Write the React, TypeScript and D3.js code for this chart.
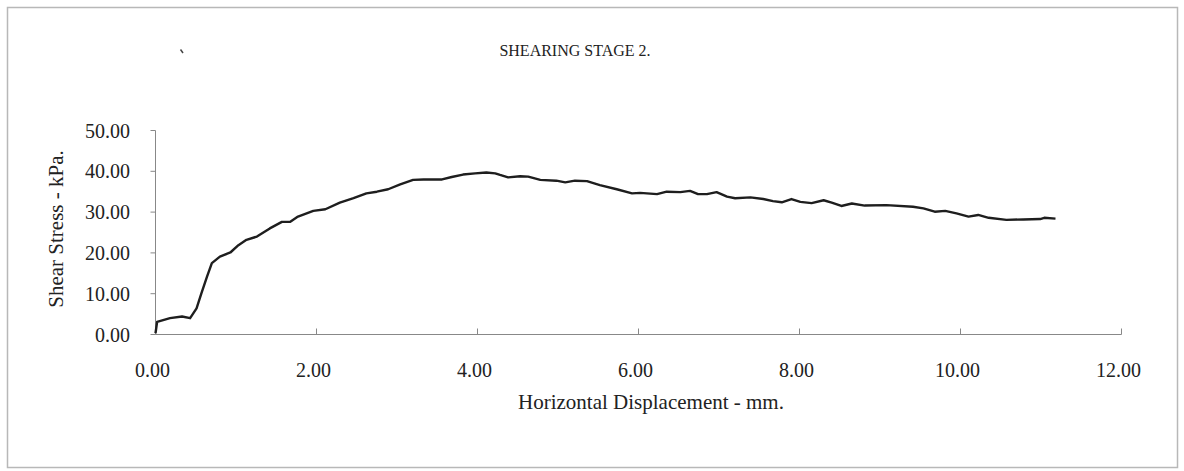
import React from "react";
import * as d3 from "d3";

const displacement = [
  0.0, 0.02, 0.18, 0.33, 0.43, 0.51, 0.57, 0.64, 0.7, 0.8, 0.93, 1.03, 1.13, 1.26, 1.42, 1.57, 1.67, 1.77,
  1.96, 2.11, 2.29, 2.46, 2.62, 2.75, 2.89, 3.04, 3.2, 3.33, 3.56, 3.68, 3.82, 3.97, 4.11, 4.22, 4.28,
  4.38, 4.53, 4.63, 4.78, 4.98, 5.09, 5.21, 5.36, 5.52, 5.73, 5.92, 6.02, 6.23, 6.35, 6.52, 6.64, 6.74,
  6.85, 6.97, 7.1, 7.2, 7.39, 7.55, 7.67, 7.78, 7.9, 8.01, 8.15, 8.3, 8.4, 8.52, 8.65, 8.81, 9.08, 9.41,
  9.54, 9.68, 9.81, 9.95, 10.1, 10.22, 10.35, 10.57, 10.78, 10.99, 11.04, 11.18,
];
const shearStress = [
  0.3, 3.1, 4.0, 4.4, 4.0, 6.4, 10.1, 14.2, 17.5, 19.1, 20.1, 21.9, 23.2, 24.0, 26.0, 27.6, 27.6, 28.9,
  30.3, 30.7, 32.3, 33.4, 34.6, 35.0, 35.6, 36.8, 37.9, 38.0, 38.0, 38.6, 39.2, 39.5, 39.7, 39.5, 39.1,
  38.5, 38.8, 38.7, 37.9, 37.7, 37.3, 37.7, 37.6, 36.6, 35.6, 34.6, 34.7, 34.4, 35.0, 34.9, 35.2, 34.4,
  34.4, 34.9, 33.8, 33.4, 33.6, 33.2, 32.7, 32.4, 33.2, 32.5, 32.2, 32.9, 32.3, 31.5, 32.1, 31.6, 31.7, 31.3,
  30.9, 30.1, 30.3, 29.7, 28.9, 29.3, 28.6, 28.1, 28.2, 28.3, 28.6, 28.4,
];
const xTicks = [0, 2, 4, 6, 8, 10, 12];
const yTicks = [0, 10, 20, 30, 40, 50];
const title = "SHEARING STAGE 2.";
const xTitle = "Horizontal Displacement - mm.";
const yTitle = "Shear Stress - kPa.";

const W = 1184;
const H = 471;
const FONT = "'Liberation Serif', 'Times New Roman', serif";

export default function App() {
  const x = d3.scaleLinear().domain([0, 12]).range([155.5, 1121.5]);
  const y = d3.scaleLinear().domain([0, 50]).range([334.5, 130.5]);
  const pts: [number, number][] = displacement.map((d, i) => [d, shearStress[i]]);
  const line = d3
    .line<[number, number]>()
    .x((d) => x(d[0]))
    .y((d) => y(d[1]))
    .curve(d3.curveLinear);

  return (
    <svg
      width={W}
      height={H}
      style={{ position: "absolute", left: 0, top: 0, background: "#fff" }}
      fontFamily={FONT}
    >
      <rect x={0} y={0} width={W} height={H} fill="#fff" />
      <rect x={7.5} y={7.5} width={1170} height={460} fill="none" stroke="#b8b8b8" strokeWidth={1.5} />
      <text x={575} y={56} textAnchor="middle" fontSize={16} fill="#222">
        {title}
      </text>
      <path d="M180.5,49.5 L183,53" stroke="#444" strokeWidth={1.5} />
      {/* y axis */}
      <line x1={x(0)} x2={x(0)} y1={y(50)} y2={y(0)} stroke="#888" strokeWidth={1} />
      {yTicks.map((t) => (
        <g key={"y" + t}>
          <line x1={x(0) - 5} x2={x(0)} y1={y(t)} y2={y(t)} stroke="#888" strokeWidth={1} />
          <text x={130} y={y(t)} dy="0.35em" textAnchor="end" fontSize={20} fill="#222">
            {t.toFixed(2)}
          </text>
        </g>
      ))}
      {/* x axis */}
      <line x1={x(0)} x2={x(12)} y1={y(0)} y2={y(0)} stroke="#888" strokeWidth={1} />
      {xTicks.map((t) => (
        <g key={"x" + t}>
          <line x1={x(t)} x2={x(t)} y1={y(0) - 6} y2={y(0)} stroke="#888" strokeWidth={1} />
          <text x={x(t) - 3} y={377} textAnchor="middle" fontSize={20} fill="#222">
            {t.toFixed(2)}
          </text>
        </g>
      ))}
      <text x={651} y={409} textAnchor="middle" fontSize={21} fill="#222">
        {xTitle}
      </text>
      <text
        transform={`translate(63,229) rotate(-90)`}
        textAnchor="middle"
        fontSize={21}
        fill="#222"
      >
        {yTitle}
      </text>
      <path d={line(pts) || ""} fill="none" stroke="#1e1e1e" strokeWidth={2.4} strokeLinejoin="round" />
    </svg>
  );
}
